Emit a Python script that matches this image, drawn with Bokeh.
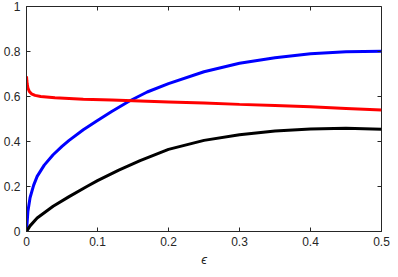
from bokeh.plotting import figure
from bokeh.models import FixedTicker, CustomJSTickFormatter, Range1d
from bokeh.embed import file_html
from bokeh.resources import INLINE

# Blue curve
blue_x = [0, 0.002, 0.005, 0.01, 0.015, 0.025, 0.0375, 0.05, 0.06, 0.08, 0.1, 0.12,
          0.145, 0.17, 0.2, 0.25, 0.3, 0.35, 0.4, 0.45, 0.5]
blue_y = [0, 0.09, 0.15, 0.205, 0.245, 0.295, 0.341, 0.378, 0.405, 0.452, 0.493, 0.533,
          0.58, 0.62, 0.657, 0.71, 0.748, 0.772, 0.79, 0.799, 0.801]

# Red curve
red_x = [0, 0.0005, 0.001, 0.002, 0.004, 0.007, 0.012, 0.02, 0.04, 0.08, 0.12, 0.16,
         0.2, 0.25, 0.3, 0.35, 0.4, 0.45, 0.5]
red_y = [0.69, 0.67, 0.655, 0.638, 0.622, 0.612, 0.605, 0.600, 0.594, 0.588, 0.584, 0.580,
         0.576, 0.571, 0.565, 0.560, 0.554, 0.547, 0.540]

# Black curve
black_x = [0, 0.005, 0.015, 0.0375, 0.06, 0.085, 0.1, 0.13, 0.16, 0.2, 0.25, 0.3,
           0.35, 0.4, 0.45, 0.5]
black_y = [0, 0.025, 0.06, 0.112, 0.155, 0.2, 0.226, 0.273, 0.315, 0.365, 0.405, 0.43,
           0.447, 0.456, 0.459, 0.454]

x_ticks = [0, 0.1, 0.2, 0.3, 0.4, 0.5]
y_ticks = [0, 0.2, 0.4, 0.6, 0.8, 1.0]
x_label = "\u03f5"

AX = "#262626"
FONT = "Liberation Sans"
X0, X1, Y0, Y1 = 0, 0.5, 0, 1

p = figure(width=390, height=269, x_range=Range1d(X0, X1), y_range=Range1d(Y0, Y1),
           output_backend="svg", toolbar_location=None,
           min_border_left=26, min_border_right=9, min_border_top=6, min_border_bottom=37)
p.xgrid.visible = False
p.ygrid.visible = False
p.outline_line_color = AX
p.outline_line_width = 1
p.background_fill_color = "white"
p.border_fill_color = "white"

p.line(blue_x, blue_y, line_color="#0000ff", line_width=3)
p.line(red_x, red_y, line_color="#ff0000", line_width=3)
p.line(black_x, black_y, line_color="#000000", line_width=3)

# inward ticks on the top and right edges of the box (half of each dash is clipped)
p.scatter(x_ticks, [Y1] * len(x_ticks), marker="dash", angle=1.5708, size=8,
          line_color=AX, line_width=1)
p.scatter([X1] * len(y_ticks), y_ticks, marker="dash", size=8,
          line_color=AX, line_width=1)

fmt = CustomJSTickFormatter(code="return Number(tick.toFixed(2)).toString();")

def style(ax, ticks, standoff):
    ax.ticker = FixedTicker(ticks=ticks)
    ax.formatter = fmt
    ax.axis_line_color = AX
    ax.axis_line_width = 1
    ax.major_tick_line_color = AX
    ax.major_tick_in = 4
    ax.major_tick_out = 0
    ax.minor_tick_line_color = None
    ax.major_label_text_font = FONT
    ax.major_label_text_font_size = "12px"
    ax.major_label_text_color = AX
    ax.major_label_standoff = standoff

style(p.xaxis[0], x_ticks, 5)
style(p.yaxis[0], y_ticks, 6)
p.xaxis[0].axis_label = x_label
p.xaxis[0].axis_label_text_font = FONT
p.xaxis[0].axis_label_text_font_style = "italic"
p.xaxis[0].axis_label_text_font_size = "13px"
p.xaxis[0].axis_label_text_color = AX
p.xaxis[0].axis_label_standoff = 3

open("out.html", "w").write(file_html(p, INLINE))
